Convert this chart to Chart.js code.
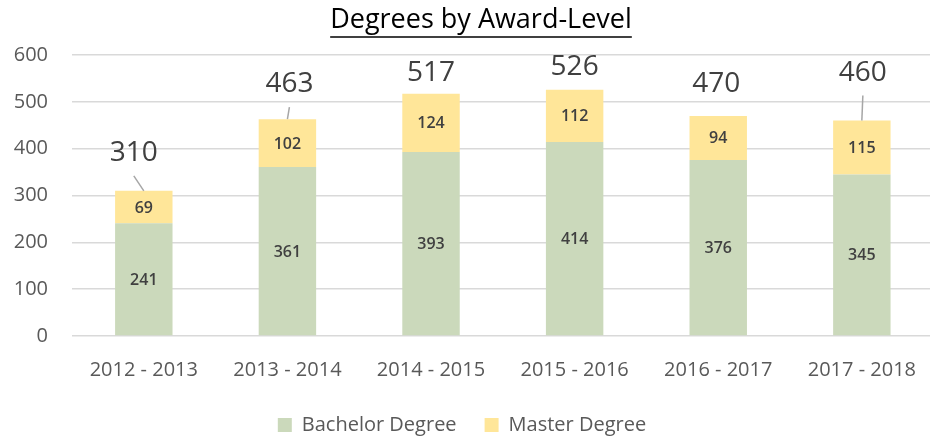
<!DOCTYPE html>
<html>
<head>
<meta charset="utf-8">
<script src="https://cdn.jsdelivr.net/npm/chart.js@4.4.0/dist/chart.umd.min.js"></script>
<style>
  html, body { margin: 0; padding: 0; background: #fff; width: 930px; height: 436px; overflow: hidden; }
  #wrap { width: 938px; height: 445px; }
</style>
</head>
<body>
<div id="wrap"><canvas id="c" width="938" height="445"></canvas></div>
<script>
// ---- data ----
const categories = ['2012 - 2013', '2013 - 2014', '2014 - 2015', '2015 - 2016', '2016 - 2017', '2017 - 2018'];
const bachelorDegree = [241, 361, 393, 414, 376, 345];
const masterDegree = [69, 102, 124, 112, 94, 115];
const yTickValues = [0, 100, 200, 300, 400, 500, 600];

// ---- label placement (style only) ----
const totalLabelPlacement = [
  { dx: -10, dy: -38, leader: true },
  { dx: 2, dy: -35, leader: true },
  { dx: 0, dy: -21, leader: false },
  { dx: 0, dy: -23, leader: false },
  { dx: -2, dy: -32, leader: false },
  { dx: 1, dy: -48, leader: true }
];

const FONT = '"Open Sans", "Liberation Sans", sans-serif';

const valueLabels = {
  id: 'valueLabels',
  afterDatasetsDraw(chart) {
    const ctx = chart.ctx;
    const yScale = chart.scales.y;
    ctx.save();
    ctx.textAlign = 'center';
    ctx.textBaseline = 'middle';
    ctx.font = '600 16px ' + FONT;
    ctx.fillStyle = '#404040';
    chart.data.datasets.forEach((ds, di) => {
      const meta = chart.getDatasetMeta(di);
      meta.data.forEach((bar, i) => {
        const p = bar.getProps(['x', 'y', 'base'], true);
        ctx.fillText(String(ds.data[i]), p.x, (p.y + p.base) / 2 + 1);
      });
    });
    const meta0 = chart.getDatasetMeta(0);
    ctx.font = '400 28px ' + FONT;
    categories.forEach((c, i) => {
      const total = bachelorDegree[i] + masterDegree[i];
      const x = meta0.data[i].x;
      const top = yScale.getPixelForValue(total);
      const s = totalLabelPlacement[i];
      const lx = x + s.dx, ly = top + s.dy;
      if (s.leader) {
        ctx.strokeStyle = '#a6a6a6';
        ctx.lineWidth = 1.5;
        ctx.beginPath();
        ctx.moveTo(lx, ly + 23);
        ctx.lineTo(x, top);
        ctx.stroke();
      }
      ctx.fillStyle = '#404040';
      ctx.fillText(String(total), lx, ly);
    });
    ctx.restore();
  }
};

const titleUnderline = {
  id: 'titleUnderline',
  afterDraw(chart) {
    const t = chart.titleBlock;
    if (!t) return;
    const ctx = chart.ctx;
    ctx.save();
    ctx.font = '400 27px ' + FONT;
    const text = chart.options.plugins.title.text;
    const w = ctx.measureText(text).width;
    const cx = (t.left + t.right) / 2;
    ctx.strokeStyle = '#000';
    ctx.lineWidth = 1.6;
    ctx.beginPath();
    ctx.moveTo(cx - w / 2, 37);
    ctx.lineTo(cx + w / 2, 37);
    ctx.stroke();
    ctx.restore();
  }
};

const boxShift = {
  id: 'boxShift',
  afterLayout(chart) {
    if (chart.legend) {
      chart.legend.left -= 7;
      chart.legend.right -= 7;
    }
    if (chart.titleBlock) {
      chart.titleBlock.left += 12;
      chart.titleBlock.right += 12;
    }
  }
};

new Chart(document.getElementById('c'), {
  type: 'bar',
  data: {
    labels: categories,
    datasets: [
      { label: 'Bachelor Degree', data: bachelorDegree, backgroundColor: '#cbd9bb', borderWidth: 0, barPercentage: 0.4, categoryPercentage: 1.0 },
      { label: 'Master Degree', data: masterDegree, backgroundColor: '#ffe699', borderWidth: 0, barPercentage: 0.4, categoryPercentage: 1.0 }
    ]
  },
  options: {
    responsive: false,
    animation: false,
    devicePixelRatio: 1,
    layout: { padding: { left: 0, right: 0, top: 0, bottom: 0 } },
    plugins: {
      title: {
        display: true,
        text: 'Degrees by Award-Level',
        color: '#000',
        font: { family: FONT, size: 27, weight: '400', lineHeight: 1.2 },
        padding: { top: 4, bottom: 18.6 }
      },
      legend: {
        display: true,
        position: 'bottom',
        labels: {
          boxWidth: 14,
          boxHeight: 14,
          padding: 28,
          color: '#595959',
          font: { family: FONT, size: 20 }
        }
      },
      tooltip: { enabled: false }
    },
    scales: {
      x: {
        stacked: true,
        grid: { display: false, drawTicks: false },
        border: { display: false },
        ticks: { color: '#595959', font: { family: FONT, size: 20 }, padding: 22, maxRotation: 0 },
        afterFit(scale) { scale.height = 51; }
      },
      y: {
        stacked: true,
        min: 0,
        max: 600,
        afterBuildTicks(scale) { scale.ticks = yTickValues.map(v => ({ value: v })); },
        grid: { color: '#d9d9d9', lineWidth: 1.5, drawTicks: false },
        border: { display: false },
        ticks: { color: '#595959', font: { family: FONT, size: 20 }, padding: 24 },
        afterFit(scale) { scale.width = 72; }
      }
    }
  },
  plugins: [valueLabels, titleUnderline, boxShift]
});
</script>
</body>
</html>
